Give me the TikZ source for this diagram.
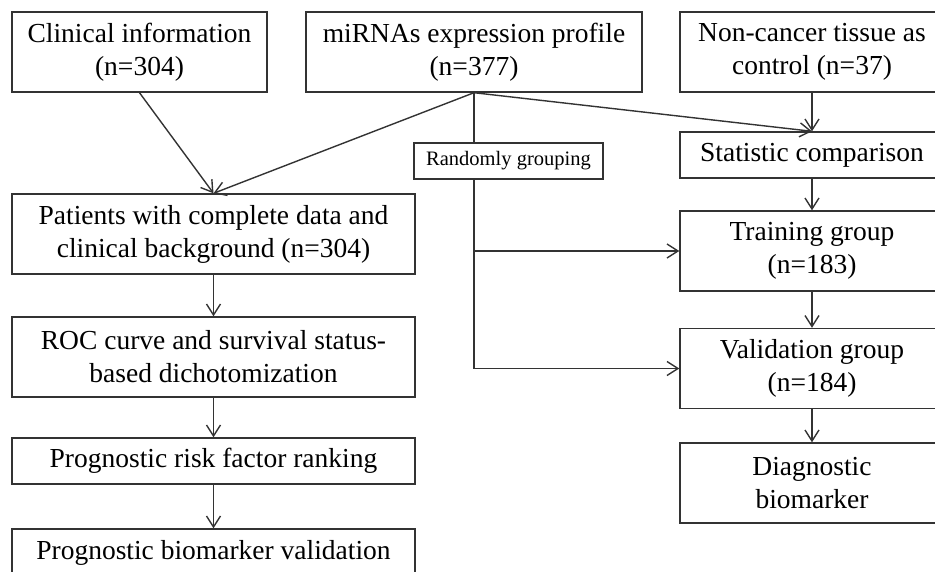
\documentclass[tikz,border=0pt]{standalone}
\usepackage{fontspec}
\setmainfont{Liberation Serif}
\usepackage{tikz}
\usetikzlibrary{arrows.meta}

\begin{document}
\begin{tikzpicture}[x=1pt, y=-1pt, node distance=100pt]
% Styles
\tikzstyle{flowbox} = [rectangle, draw=black!80, line width=1.4pt, fill=white, text centered, align=center, inner sep=2pt, font=\fontsize{27.5}{33}\selectfont]
\tikzstyle{tallbox} = [flowbox, minimum height=80pt]
\tikzstyle{flatbox} = [flowbox, minimum height=46pt]
\tikzstyle{tagbox} = [flowbox, minimum width=189pt, minimum height=36pt, font=\fontsize{20.5}{24}\selectfont]
\tikzstyle{arrow} = [draw=black!80, line width=1.4pt, -{Straight Barb[length=11pt, width=14pt]}]

\useasboundingbox (0,0) rectangle (935,571);

\node (clinical) [tallbox, minimum width=255pt] at (139.5,52) {Clinical information\\(n=304)};
\node (mirna) [tallbox, minimum width=336pt] at (474,52) {miRNAs expression profile\\(n=377)};
\node (control) [tallbox, minimum width=264pt] at (812,52) {Non-cancer tissue as\\control (n=37)};

\node (patients) [tallbox, minimum width=403pt] at (213.5,234) {Patients with complete data and\\clinical background (n=304)};
\node (roc) [tallbox, minimum width=403pt, below of=patients, yshift=-23pt] {ROC curve and survival status-\\based dichotomization};
\node (ranking) [flatbox, minimum width=403pt, below of=roc, yshift=-4pt] {Prognostic risk factor ranking};
\node (prog_valid) [flatbox, minimum width=403pt, minimum height=48pt, below of=ranking, yshift=8pt] {Prognostic biomarker validation};

\node (stat) [flatbox, minimum width=264pt, below of=control, yshift=-3pt] {Statistic comparison};
\node (training) [tallbox, minimum width=264pt, below of=stat, yshift=4pt] {Training group\\(n=183)};
\node (validation) [tallbox, minimum width=264pt, below of=training, yshift=-17.5pt] {Validation group\\(n=184)};
\node (diagnostic) [tallbox, minimum width=264pt, below of=validation, yshift=-14.5pt] {Diagnostic\\biomarker};

\draw [arrow] (clinical.south) -- (patients.north);
\draw [arrow] (mirna.south) -- (patients.north);
\draw [arrow] (mirna.south) -- (stat.north);
\draw [arrow] (control) -- (stat);
\draw [arrow] (stat) -- (training);
\draw [arrow] (training) -- (validation);
\draw [arrow] (validation) -- (diagnostic);
\draw [arrow] (patients) -- (roc);
\draw [arrow] (roc) -- (ranking);
\draw [arrow] (ranking) -- (prog_valid);

\draw [arrow] (mirna.south) |- (validation.west);
\draw [arrow] (mirna.south |- training.west) -- (training.west);

\node (grouping) [tagbox] at (508.5,161) {Randomly grouping};

\end{tikzpicture}
\end{document}
